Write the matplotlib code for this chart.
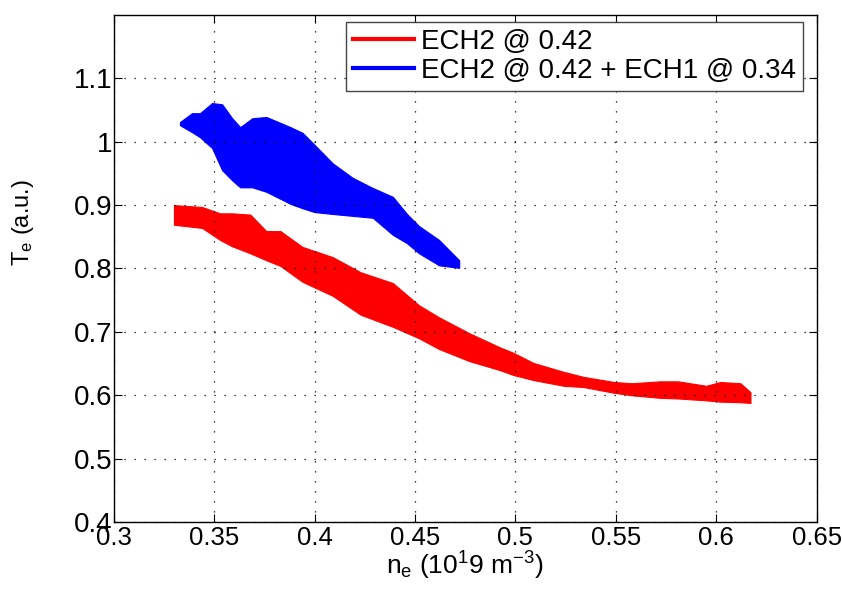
import matplotlib
matplotlib.use("Agg")
import matplotlib.pyplot as plt
from matplotlib.lines import Line2D

plt.rcParams['font.family'] = ['Liberation Sans', 'DejaVu Sans']
plt.rcParams['mathtext.fontset'] = 'custom'
plt.rcParams['mathtext.rm'] = 'Liberation Sans'
plt.rcParams['mathtext.it'] = 'Liberation Sans'

# ECH2 @ 0.42 : band edges
red_ne = [0.330, 0.344, 0.353, 0.359, 0.368, 0.376, 0.383, 0.394, 0.409, 0.423,
          0.439, 0.452, 0.462, 0.477, 0.492, 0.499, 0.509, 0.524, 0.534, 0.549,
          0.558, 0.572, 0.581, 0.595, 0.602, 0.612, 0.617]
red_hi = [0.900, 0.897, 0.887, 0.887, 0.885, 0.859, 0.859, 0.834, 0.818, 0.794,
          0.777, 0.742, 0.723, 0.698, 0.676, 0.667, 0.651, 0.637, 0.629, 0.621,
          0.619, 0.622, 0.622, 0.615, 0.621, 0.619, 0.605]
red_lo = [0.869, 0.864, 0.845, 0.835, 0.824, 0.813, 0.804, 0.779, 0.757, 0.727,
          0.708, 0.690, 0.673, 0.654, 0.640, 0.632, 0.624, 0.615, 0.613, 0.604,
          0.600, 0.596, 0.595, 0.592, 0.590, 0.589, 0.588]

# ECH2 @ 0.42 + ECH1 @ 0.34
blue_ne = [0.333, 0.339, 0.343, 0.349, 0.354, 0.359, 0.363, 0.369, 0.376, 0.388,
           0.394, 0.400, 0.409, 0.419, 0.429, 0.439, 0.446, 0.452, 0.462, 0.472]
blue_hi = [1.031, 1.045, 1.045, 1.061, 1.059, 1.037, 1.023, 1.037, 1.039, 1.023,
           1.014, 0.995, 0.966, 0.943, 0.927, 0.913, 0.886, 0.867, 0.845, 0.813]
blue_lo = [1.026, 1.015, 1.007, 0.990, 0.955, 0.939, 0.928, 0.928, 0.921, 0.902,
           0.895, 0.889, 0.886, 0.883, 0.880, 0.853, 0.840, 0.824, 0.805, 0.801]

labels = ['ECH2 @ 0.42', 'ECH2 @ 0.42 + ECH1 @ 0.34']
colors = ['#ff0000', '#0000ff']

fig = plt.figure(figsize=(8.42, 5.96), dpi=100)
ax = fig.add_axes([0.135, 0.124, 0.835, 0.851])

ax.fill_between(red_ne, red_lo, red_hi, color=colors[0], lw=0.8, edgecolor=colors[0])
ax.fill_between(blue_ne, blue_lo, blue_hi, color=colors[1], lw=0.8, edgecolor=colors[1])

ax.set_xlim(0.3, 0.65)
ax.set_ylim(0.4, 1.2)
ax.set_xticks([0.3, 0.35, 0.4, 0.45, 0.5, 0.55, 0.6, 0.65])
ax.set_xticklabels(['0.3', '0.35', '0.4', '0.45', '0.5', '0.55', '0.6', '0.65'])
ax.set_yticks([0.4, 0.5, 0.6, 0.7, 0.8, 0.9, 1.0, 1.1])
ax.set_yticklabels(['0.4', '0.5', '0.6', '0.7', '0.8', '0.9', '1', '1.1'])
ax.tick_params(direction='in', length=6, width=0.8, top=True, right=True, pad=1)
ax.tick_params(axis='x', labelsize=18.5, pad=3)
ax.tick_params(axis='y', labelsize=20)
for s in ax.spines.values():
    s.set_linewidth(1.0)
ax.grid(True, color='black', linestyle=(0, (1, 7)), linewidth=0.9)

ax.set_xlabel(r'n$_\mathregular{e}$ (10$^\mathregular{1}$9 m$^\mathregular{-3}$)', fontsize=19, labelpad=0)
ax.set_ylabel(r'T$_\mathregular{e}$ (a.u.)', fontsize=17)
ax.yaxis.set_label_coords(-0.11, 0.59)

handles = [Line2D([0], [0], color=c, lw=3) for c in colors]
leg = ax.legend(handles, labels, loc='upper right', bbox_to_anchor=(0.980, 0.986),
                borderaxespad=0, fontsize=20, handlelength=2.2, handletextpad=0.25,
                labelspacing=0.1, borderpad=0.25, fancybox=False, framealpha=1)
leg.get_frame().set_edgecolor('#444444')
leg.get_frame().set_linewidth(1.0)

fig.savefig('out.png', dpi=100)
